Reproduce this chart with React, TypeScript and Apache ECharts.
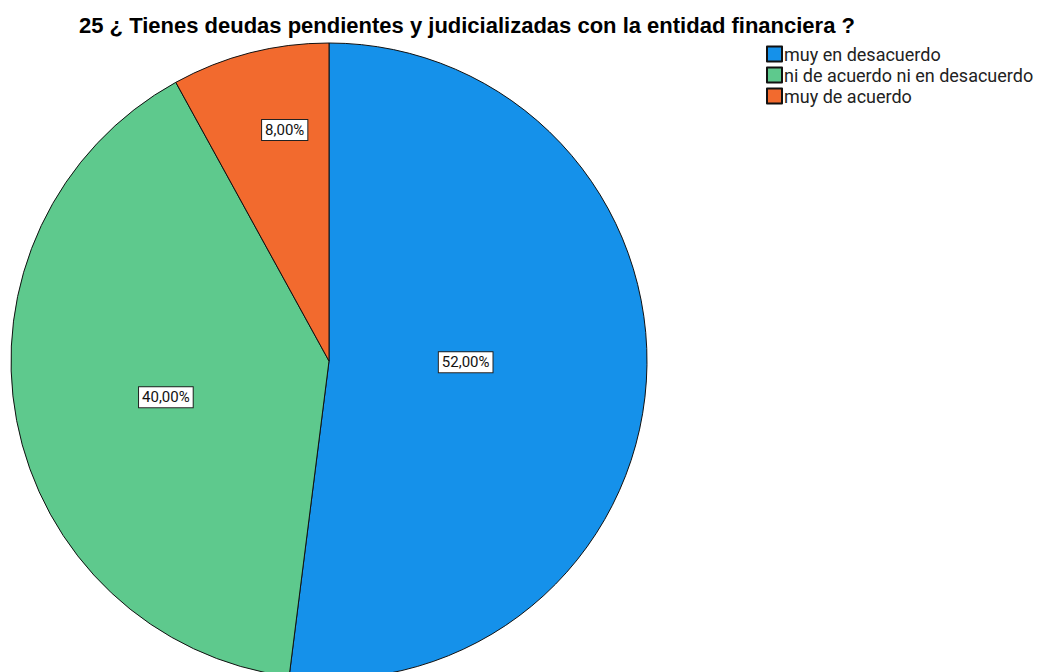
import React, { useEffect, useRef } from "react";
import * as echarts from "echarts";

const categories = ["muy en desacuerdo", "ni de acuerdo ni en desacuerdo", "muy de acuerdo"];
const values = [52, 40, 8];
const colors = ["#1591EA", "#5EC98D", "#F26A2E"];
const labelOffsets = [[-25, -9], [-4, 6], [-4, -74]];

export default function App() {
  const ref = useRef<HTMLDivElement>(null);
  useEffect(() => {
    const chart = echarts.init(ref.current!, undefined, { renderer: "svg" });
    chart.setOption({
      animation: false,
      backgroundColor: "#ffffff",
      title: {
        text: "25 ¿ Tienes deudas pendientes y judicializadas con la entidad financiera ?",
        left: 74,
        top: 9,
        textStyle: { fontFamily: "Liberation Sans", fontWeight: "bold", fontSize: 22, color: "#000" },
      },
      legend: {
        orient: "vertical",
        left: 761,
        top: 40,
        itemWidth: 15,
        itemHeight: 15,
        itemGap: 3,
        icon: "rect",
        data: categories,
        textStyle: { fontFamily: "Roboto", fontSize: 18, lineHeight: 16, color: "#222", padding: [0, 0, 0, -3] },
      },
      series: [
        {
          type: "pie",
          center: [329, 361],
          radius: [0, 318],
          startAngle: 90,
          clockwise: true,
          silent: true,
          itemStyle: { borderColor: "#111", borderWidth: 1 },
          labelLine: { show: false },
          data: categories.map((c, i) => ({
            name: c,
            value: values[i],
            itemStyle: { color: colors[i] },
            label: { offset: labelOffsets[i] },
          })),
          label: {
            show: true,
            position: "inside",
            formatter: (p: any) => p.value.toFixed(2).replace(".", ",") + "%",
            fontFamily: "Roboto",
            fontSize: 15,
            color: "#111",
            backgroundColor: "#fff",
            borderColor: "#222",
            borderWidth: 1,
            padding: [3, 3, 2, 3],
          },
        },
      ],
    });
    return () => chart.dispose();
  }, []);
  return <div ref={ref} style={{ position: "fixed", left: 0, top: 0, width: 1037, height: 672 }} />;
}
